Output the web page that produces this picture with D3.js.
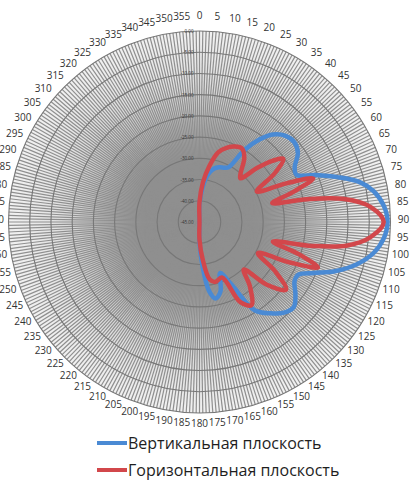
<!DOCTYPE html>
<html><head><meta charset="utf-8">
<script src="https://cdn.jsdelivr.net/npm/d3@7"></script>
<style>body{margin:0;background:#fff}svg{display:block}</style>
</head><body><svg id="c" width="417" height="489"></svg>
<script>
// ---- data ----
const angleTicks = d3.range(0, 360, 5);
const angleLabels = angleTicks.map(String);
const ringValues = [-45, -40, -35, -30, -25, -20, -15, -10, -5, 0];
const ringLabels = ringValues.map(v => v.toFixed(2));
const seriesNames = ["Вертикальная плоскость", "Горизонтальная плоскость"];

const vertAngles = [0,5,10,15,20,25,28,32,36,40,45,50,55,60,64,68,72,76,80,85,90,95,100,105,110,114,118,122,127,132,137,142,148,153,158,163,168,172,176,180,270];
const vertValues = [-40.8,-36.8,-33.7,-32.0,-31.3,-30.9,-30.4,-25.0,-21.0,-18.1,-16.3,-15.8,-16.7,-19.1,-19.6,-15.5,-10.8,-6.1,-3.3,-1.4,-0.7,-1.4,-3.3,-6.6,-11.1,-15.5,-18.6,-18.6,-16.7,-15.1,-15.8,-17.7,-20.5,-28.5,-32.0,-28.0,-26.6,-28.5,-34.4,-40.3,-45];

const horAngles = [0,5,10,15,20,25,30,35,40,43,47,50,53,57,62,66,69,72,75.5,78,81,85,90,95,99,102,105,108,111,114,118,123,128,133,137,142,148,153,158,165,170,175,180,270];
const horValues = [-40.3,-35.6,-31.6,-28.0,-26.4,-25.4,-25.0,-26.6,-29.9,-30.9,-26.2,-22.6,-20.3,-23.8,-29.7,-22.6,-16.3,-21.4,-27.3,-19.1,-10.4,-4.5,-1.6,-4.5,-9.7,-17.9,-27.1,-20.3,-15.1,-21.4,-29.4,-23.8,-19.1,-23.3,-29.7,-25.7,-21.9,-23.8,-30.9,-30.4,-31.3,-36.0,-40.8,-45];

const colors = ["#4a8ad4", "#d2474b"];

// ---- layout ----
const svg = d3.select("#c");
const cx = 199.5, cy = 222, R = 191;
const defs = svg.append("defs");
const grad = defs.append("radialGradient").attr("id", "disk").attr("cx", "50%").attr("cy", "50%").attr("r", "50%");
[[0, "#8e8e8e", 1], [0.3, "#929292", 1], [0.5, "#a8a8a8", 0.8], [0.75, "#c4c4c4", 0.5], [1, "#d8d8d8", 0.35]]
  .forEach(s => grad.append("stop").attr("offset", s[0]).attr("stop-color", s[1]).attr("stop-opacity", s[2]));

const g = svg.append("g").attr("transform", `translate(${cx},${cy})`);
const r = d3.scaleLinear().domain([d3.min(ringValues), d3.max(ringValues)]).range([0, R]);
const a = d3.scaleLinear().domain([0, 360]).range([0, 2 * Math.PI]);

g.append("circle").attr("r", R).attr("fill", "url(#disk)");

// spokes every degree
g.append("g").selectAll("line").data(d3.range(0, 360, 1)).join("line")
  .attr("x1", 0).attr("y1", 0)
  .attr("x2", d => R * Math.sin(a(d))).attr("y2", d => -R * Math.cos(a(d)))
  .attr("stroke", "#8f8f8f").attr("stroke-width", 1.2);

// rings
g.append("g").selectAll("circle").data(ringValues.slice(1)).join("circle")
  .attr("r", d => r(d)).attr("fill", "none")
  .attr("stroke", "#777").attr("stroke-width", 1.1);

// ring labels along 0° axis
g.append("g").selectAll("text").data(ringValues).join("text")
  .attr("x", -6).attr("y", d => -r(d))
  .attr("text-anchor", "end").attr("dominant-baseline", "central")
  .attr("font-family", "Open Sans, sans-serif").attr("font-size", 4.5)
  .attr("fill", "#333")
  .text((d, i) => ringLabels[i]);

// series
const line = d3.lineRadial().curve(d3.curveCatmullRomClosed.alpha(0.5));
function pts(angs, vals) { return angs.map((ang, i) => [a(ang), r(vals[i])]); }
g.append("path").attr("d", line(pts(vertAngles, vertValues)))
  .attr("fill", "none").attr("stroke", colors[0]).attr("stroke-width", 4.5).attr("stroke-linejoin", "round");
g.append("path").attr("d", line(pts(horAngles, horValues)))
  .attr("fill", "none").attr("stroke", colors[1]).attr("stroke-width", 4.5).attr("stroke-linejoin", "round");

// angle labels
const LR = 204;
g.append("g").selectAll("text").data(angleTicks).join("text")
  .attr("x", d => LR * Math.sin(a(d))).attr("y", d => -LR * Math.cos(a(d)) - 3)
  .attr("text-anchor", "middle").attr("dominant-baseline", "central")
  .attr("font-family", "Open Sans, sans-serif").attr("font-size", 10)
  .attr("fill", "#333")
  .text((d, i) => angleLabels[i]);

// legend
const leg = svg.append("g");
seriesNames.forEach((name, i) => {
  const y = 443 + i * 27;
  leg.append("line").attr("x1", 97).attr("x2", 127).attr("y1", y).attr("y2", y)
    .attr("stroke", colors[i]).attr("stroke-width", 4);
  leg.append("text").attr("x", 128).attr("y", y).attr("dominant-baseline", "central")
    .attr("font-family", "Open Sans, sans-serif").attr("font-size", 16).attr("fill", "#1e1e1e")
    .text(name);
});
</script></body></html>
